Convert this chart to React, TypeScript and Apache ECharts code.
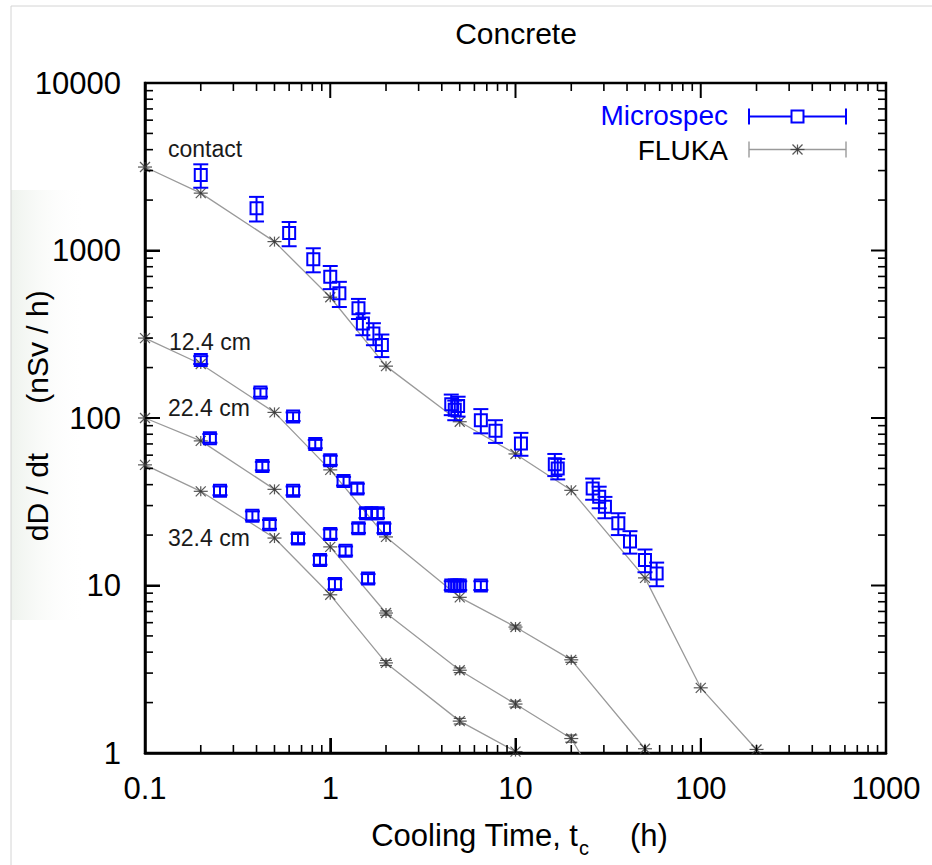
import React, { useEffect, useRef } from "react";
import * as echarts from "echarts";

// ---------- tick labels ----------
const xTickLabels = ["0.1", "1", "10", "100", "1000"];
const yTickLabels = ["1", "10", "100", "1000", "10000"];
const minorMultipliers = [2, 3, 4, 5, 6, 7, 8, 9];

// ---------- FLUKA (simulation) ----------
const flukaTimes = [0.1, 0.2, 0.5, 1, 2, 5, 10, 20, 50, 100, 200];
const flukaContact = [3150, 2200, 1130, 526, 204, 95, 61, 37, 11.1, 2.45, 1.05];
const fluka124 = [300, 210, 108, 49, 19.5, 8.5, 5.65, 3.6, 1.06];
const fluka224 = [100, 73, 37.5, 17, 6.85, 3.12, 1.96, 1.22, 0.22];
const fluka324 = [52.5, 36.5, 19.2, 8.8, 3.45, 1.55, 1.02];
const flukaErrContact = [0, 0, 0, 0, 0, 0, 0, 0, 0, 0, 0];
const flukaErr124 = [0, 0, 0, 0, 0, 0, 0.15, 0.12, 0];
const flukaErr224 = [0, 0, 0, 0, 0.2, 0.1, 0.08, 0.06, 0];
const flukaErr324 = [0, 0, 0, 0, 0.12, 0.06, 0];

// ---------- Microspec (measurement) ----------
const msContactT = [0.2, 0.4, 0.6, 0.81, 1.0, 1.12, 1.42, 1.5, 1.71, 1.9, 4.5, 4.7, 4.9, 6.5, 7.8, 10.7, 16.3, 16.9, 26.1, 28.3, 30.4, 35.9, 41.5, 50, 57.8];
const msContactV = [2820, 1790, 1270, 886, 698, 555, 452, 367, 320, 273, 121, 112, 118, 97, 84, 70.5, 53, 50, 38, 33.9, 29.5, 23.5, 18.3, 14.2, 11.8];
const msContactE = [450, 300, 210, 145, 110, 95, 62, 55, 48, 42, 17, 15, 16, 16, 13, 11, 8, 7, 5.5, 5, 4.3, 3.5, 2.8, 2.2, 1.9];

const ms124T = [0.2, 0.42, 0.63, 0.83, 1.0, 1.18, 1.4, 1.56, 1.67, 1.8, 1.95, 4.5, 4.7, 4.85, 5.0, 6.5];
const ms124V = [222, 142, 102, 70, 56, 42, 38, 27, 27, 27, 22, 10, 10, 10, 10, 10];
const ms124E = [12, 8, 6, 4, 3.5, 2.5, 2.5, 1.7, 1.7, 1.7, 1.4, 0.6, 0.6, 0.6, 0.6, 0.6];

const ms224T = [0.224, 0.43, 0.63, 1.0, 1.21, 1.42, 1.6];
const ms224V = [75.7, 51.7, 36.8, 20.3, 16.1, 22, 11];
const ms224E = [4.5, 3, 2.2, 1.3, 1, 1.4, 0.7];

const ms324T = [0.254, 0.38, 0.47, 0.67, 0.88, 1.06];
const ms324V = [36.8, 26.1, 23.2, 19.1, 14.2, 10.2];
const ms324E = [2.2, 1.6, 1.4, 1.2, 0.9, 0.7];

const seriesLabels = ["contact", "12.4 cm", "22.4 cm", "32.4 cm"];

const FONT = "'Liberation Sans', Arial, Helvetica, sans-serif";
const BLUE = "#0000ff";
const GRAY_LINE = "#9a9a9a";
const STAR = "#3a3a3a";

const xMin = Number(xTickLabels[0]);
const xMax = Number(xTickLabels[xTickLabels.length - 1]);
const yMin = Number(yTickLabels[0]);
const yMax = Number(yTickLabels[yTickLabels.length - 1]);

function labelFor(list: string[], v: number) {
  const f = list.find((l) => Math.abs(Math.log10(Number(l)) - Math.log10(v)) < 1e-6);
  return f ?? "";
}

function msData(t: number[], v: number[], e: number[]) {
  return t.map((x, i) => [x, v[i], v[i] - e[i], v[i] + e[i]]);
}
function flukaLine(v: number[]) {
  return v.map((y, i) => [flukaTimes[i], y]);
}
function flukaPts(v: number[], e: number[]) {
  return v.map((y, i) => [flukaTimes[i], y, e[i]]);
}

const renderMs = (params: any, api: any) => {
  const t = api.value(0);
  const v = api.value(1);
  const c = api.coord([t, v]);
  const cl = api.coord([t, api.value(2)]);
  const ch = api.coord([t, api.value(3)]);
  const st = { stroke: BLUE, lineWidth: 2, fill: "none" };
  return {
    type: "group",
    children: [
      { type: "line", shape: { x1: c[0], y1: cl[1], x2: c[0], y2: ch[1] }, style: st },
      { type: "line", shape: { x1: c[0] - 7.5, y1: cl[1], x2: c[0] + 7.5, y2: cl[1] }, style: st },
      { type: "line", shape: { x1: c[0] - 7.5, y1: ch[1], x2: c[0] + 7.5, y2: ch[1] }, style: st },
      { type: "rect", shape: { x: c[0] - 6, y: c[1] - 6, width: 12, height: 12 }, style: st },
    ],
  };
};

function starChildren(cx: number, cy: number) {
  const st = { stroke: STAR, lineWidth: 1.2, opacity: 0.85 };
  const a = 7;
  const d = 5;
  return [
    { type: "line", shape: { x1: cx - a, y1: cy, x2: cx + a, y2: cy }, style: st },
    { type: "line", shape: { x1: cx, y1: cy - d, x2: cx, y2: cy + d }, style: st },
    { type: "line", shape: { x1: cx - d, y1: cy - d, x2: cx + d, y2: cy + d }, style: st },
    { type: "line", shape: { x1: cx - d, y1: cy + d, x2: cx + d, y2: cy - d }, style: st },
  ];
}

const renderStar = (params: any, api: any) => {
  const t = api.value(0);
  const v = api.value(1);
  const c = api.coord([t, v]);
  if (v < yMin * 0.98) return { type: "group", children: [] };
  const children: any[] = starChildren(c[0], c[1]);
  const e = api.value(2);
  if (e > 0) {
    const lo = api.coord([t, v - e]);
    const hi = api.coord([t, v + e]);
    const st = { stroke: STAR, lineWidth: 1.2, opacity: 0.85 };
    children.push(
      { type: "line", shape: { x1: c[0], y1: lo[1], x2: c[0], y2: hi[1] }, style: st },
      { type: "line", shape: { x1: c[0] - 6, y1: lo[1], x2: c[0] + 6, y2: lo[1] }, style: st },
      { type: "line", shape: { x1: c[0] - 6, y1: hi[1], x2: c[0] + 6, y2: hi[1] }, style: st }
    );
  }
  return { type: "group", children };
};

// x-direction tick items: [value, length]; y-direction likewise
const xTicks: number[][] = [];
xTickLabels.forEach((l) => xTicks.push([Number(l), 15]));
xTickLabels.slice(0, -1).forEach((l) => minorMultipliers.forEach((m) => xTicks.push([Number(l) * m, 8])));
const yTicks: number[][] = [];
yTickLabels.forEach((l) => yTicks.push([Number(l), 15]));
yTickLabels.slice(0, -1).forEach((l) => minorMultipliers.forEach((m) => yTicks.push([Number(l) * m, 8])));

const renderXTick = (params: any, api: any) => {
  const v = api.value(0);
  const len = api.value(1);
  const b = api.coord([v, yMin]);
  const t = api.coord([v, yMax]);
  const st = { stroke: "#000", lineWidth: len > 10 ? 2 : 1.6 };
  return {
    type: "group",
    children: [
      { type: "line", shape: { x1: b[0], y1: b[1], x2: b[0], y2: b[1] - len }, style: st },
      { type: "line", shape: { x1: t[0], y1: t[1], x2: t[0], y2: t[1] + len }, style: st },
    ],
  };
};
const renderYTick = (params: any, api: any) => {
  const v = api.value(0);
  const len = api.value(1);
  const l = api.coord([xMin, v]);
  const r = api.coord([xMax, v]);
  const st = { stroke: "#000", lineWidth: len > 10 ? 2 : 1.6 };
  return {
    type: "group",
    children: [
      { type: "line", shape: { x1: l[0], y1: l[1], x2: l[0] + len, y2: l[1] }, style: st },
      { type: "line", shape: { x1: r[0], y1: r[1], x2: r[0] - len, y2: r[1] }, style: st },
    ],
  };
};

function logAxis(kind: "x" | "y") {
  const list = kind === "x" ? xTickLabels : yTickLabels;
  return {
    type: "log",
    min: kind === "x" ? xMin : yMin,
    max: kind === "x" ? xMax : yMax,
    axisLine: { show: true, lineStyle: { color: "#000", width: 2.5 } },
    axisTick: { show: true, inside: true, length: 15, lineStyle: { color: "#000", width: 2 } },
    splitLine: { show: false },
    axisLabel: {
      color: "#000",
      fontSize: 31,
      fontFamily: FONT,
      margin: kind === "x" ? 20 : 24,
      formatter: (v: number) => labelFor(list, v),
    },
  };
}

function text(x: number, y: number, s: string, size: number, fill: string, align = "left", extra: any = {}) {
  return {
    type: "text",
    x,
    y,
    silent: true,
    ...extra,
    style: {
      text: s,
      fontSize: size,
      fontFamily: FONT,
      fill,
      align,
      verticalAlign: "middle",
    },
  };
}

function legendGraphics() {
  const g: any[] = [];
  const x1 = 749;
  const x2 = 846;
  const xm = 797.5;
  const y1 = 116.5;
  const y2 = 149.5;
  g.push(text(728, 115, "Microspec", 28, BLUE, "right"));
  g.push(text(728, 150, "FLUKA", 28, "#000", "right"));
  const bs = { stroke: BLUE, lineWidth: 2 };
  g.push({ type: "line", shape: { x1, y1, x2, y2: y1 }, style: bs });
  g.push({ type: "line", shape: { x1, y1: y1 - 8, x2: x1, y2: y1 + 8 }, style: bs });
  g.push({ type: "line", shape: { x1: x2, y1: y1 - 8, x2, y2: y1 + 8 }, style: bs });
  g.push({ type: "rect", shape: { x: xm - 6, y: y1 - 6, width: 12, height: 12 }, style: { stroke: BLUE, lineWidth: 2, fill: "#fff" } });
  const gs = { stroke: GRAY_LINE, lineWidth: 1.4 };
  g.push({ type: "line", shape: { x1, y1: y2, x2, y2 }, style: gs });
  g.push({ type: "line", shape: { x1, y1: y2 - 8, x2: x1, y2: y2 + 8 }, style: gs });
  g.push({ type: "line", shape: { x1: x2, y1: y2 - 8, x2, y2: y2 + 8 }, style: gs });
  starChildren(xm, y2).forEach((c) => g.push(c));
  return g;
}

export default function App() {
  const ref = useRef<HTMLDivElement>(null);
  useEffect(() => {
    if (!ref.current) return;
    const chart = echarts.init(ref.current, undefined, { renderer: "svg" });
    const flukaSets = [
      [flukaContact, flukaErrContact],
      [fluka124, flukaErr124],
      [fluka224, flukaErr224],
      [fluka324, flukaErr324],
    ];
    const msSets = [
      msData(msContactT, msContactV, msContactE),
      msData(ms124T, ms124V, ms124E),
      msData(ms224T, ms224V, ms224E),
      msData(ms324T, ms324V, ms324E),
    ];
    const series: any[] = [];
    flukaSets.forEach(([v, e], i) => {
      series.push({
        name: "FLUKA " + seriesLabels[i],
        type: "line",
        data: flukaLine(v as number[]),
        showSymbol: false,
        symbol: "none",
        clip: true,
        z: 2,
        lineStyle: { color: GRAY_LINE, width: 1.3 },
      });
      series.push({
        name: "FLUKA pts " + seriesLabels[i],
        type: "custom",
        data: flukaPts(v as number[], e as number[]),
        renderItem: renderStar,
        z: 3,
      });
    });
    msSets.forEach((d, i) => {
      series.push({
        name: "Microspec " + seriesLabels[i],
        type: "custom",
        data: d,
        renderItem: renderMs,
        z: 4,
      });
    });
    series.push({
      name: "x frame ticks",
      type: "custom",
      data: xTicks.map(([v, len]) => [v, len]),
      encode: { x: 0 },
      renderItem: renderXTick,
      z: 6,
    });
    series.push({
      name: "y frame ticks",
      type: "custom",
      data: yTicks.map(([v, len]) => [v, len]),
      encode: { y: 0 },
      renderItem: renderYTick,
      z: 6,
    });

    const graphic: any[] = [
      {
        type: "rect",
        silent: true,
        z: -10,
        shape: { x: 11, y: 190, width: 75, height: 430 },
        style: {
          fill: new echarts.graphic.LinearGradient(0, 0, 1, 0, [
            { offset: 0, color: "rgba(214,224,212,0.4)" },
            { offset: 1, color: "rgba(255,255,255,0)" },
          ]),
        },
      },
      { type: "line", silent: true, shape: { x1: 11, y1: 6, x2: 11, y2: 865 }, style: { stroke: "#d4d4d4", lineWidth: 1 } },
      { type: "line", silent: true, shape: { x1: 11, y1: 6, x2: 932, y2: 6 }, style: { stroke: "#d4d4d4", lineWidth: 1 } },
      text(516, 33, "Concrete", 30, "#000", "center"),
      text(168, 149, seriesLabels[0], 23, "#1a1a1a"),
      text(169, 342, seriesLabels[1], 23, "#1a1a1a"),
      text(168, 408, seriesLabels[2], 23, "#1a1a1a"),
      text(168, 538, seriesLabels[3], 23, "#1a1a1a"),
      text(578, 835, "Cooling Time, t", 31, "#000", "right"),
      text(579, 848, "c", 20, "#000", "left"),
      text(630, 835, "(h)", 31, "#000", "left"),
      text(37, 347, "(nSv / h)", 30, "#000", "center", { rotation: Math.PI / 2 }),
      text(37, 497, "dD / dt", 30, "#000", "center", { rotation: Math.PI / 2 }),
      ...legendGraphics(),
    ];

    chart.setOption({
      animation: false,
      backgroundColor: "#fff",
      grid: { left: 145, top: 83, right: 46, bottom: 112, show: true, borderColor: "#000", borderWidth: 2.5, backgroundColor: "rgba(0,0,0,0)" },
      xAxis: logAxis("x"),
      yAxis: logAxis("y"),
      series,
      graphic,
    });
    return () => chart.dispose();
  }, []);
  return <div ref={ref} style={{ position: "fixed", left: 0, top: 0, width: 932, height: 865, background: "#fff" }} />;
}
